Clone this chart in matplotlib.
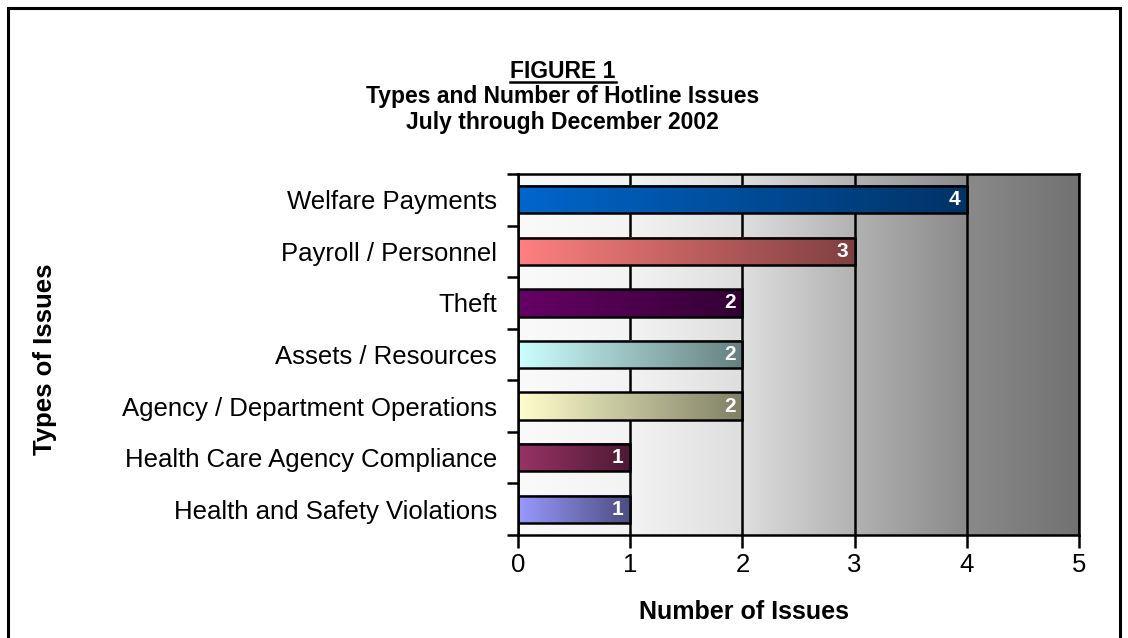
import numpy as np
import matplotlib
matplotlib.use("Agg")
import matplotlib.pyplot as plt
from matplotlib.colors import LinearSegmentedColormap
from matplotlib.patches import Rectangle
from matplotlib.lines import Line2D

plt.rcParams['font.family'] = ['Liberation Sans', 'DejaVu Sans']

# data, top to bottom as in the chart
categories = ["Welfare Payments", "Payroll / Personnel", "Theft", "Assets / Resources",
              "Agency / Department Operations", "Health Care Agency Compliance",
              "Health and Safety Violations"]
counts = [4, 3, 2, 2, 2, 1, 1]
bar_colors = ["#0066CC", "#FF8080", "#660066", "#CCFFFF", "#FFFFCC", "#993366", "#9999FF"]

fig = plt.figure(figsize=(11.28, 6.38), dpi=100)
ax = fig.add_axes([518/1128, 1 - 535/638, (1079-518)/1128, (535-174)/638])

n = len(categories)
ypos = np.arange(n)[::-1]

# grey background gradient, white on the left to dark grey on the right
stops = [(0.0, 250), (0.2, 243), (0.4, 222), (0.6, 178), (0.8, 138), (1.0, 114)]
xs = np.linspace(0, 1, 500)
vals = np.interp(xs, [s[0] for s in stops], [s[1] for s in stops]) / 255.0
bg = np.stack([vals, vals, vals], axis=-1)[None, :, :].repeat(2, axis=0)
ax.imshow(bg, extent=[0, 5, -0.5, n - 0.5], aspect='auto', zorder=0, interpolation='bilinear')

h = 0.53
bars = ax.barh(ypos, counts, height=h, facecolor='none', edgecolor='black', linewidth=1.8, zorder=3)
for bar, col, v in zip(bars, bar_colors, counts):
    c0 = np.array(matplotlib.colors.to_rgb(col))
    cmap = LinearSegmentedColormap.from_list('g', [c0, c0 * 0.5])
    x0, y0 = bar.get_x(), bar.get_y()
    w, hh = bar.get_width(), bar.get_height()
    grad = np.linspace(0, 1, 256)[None, :]
    ax.imshow(grad, cmap=cmap, extent=[x0, x0 + w, y0, y0 + hh], aspect='auto', zorder=2,
              interpolation='bilinear')
    ax.text(x0 + w - 0.06, y0 + hh / 2, str(v), color='white', fontsize=15, fontweight='bold',
            ha='right', va='center', zorder=4)

ax.set_xlim(0, 5)
ax.set_ylim(-0.5, n - 0.5)
ax.set_xticks(range(6))
ax.xaxis.grid(True, color='black', linewidth=1.8)
ax.set_axisbelow(True)
for ln in ax.get_xgridlines():
    ln.set_zorder(1)

ax.set_yticks(ypos)
ax.set_yticklabels(categories)
ax.set_yticks(np.arange(-0.5, n, 1.0), minor=True)
ax.tick_params(axis='y', which='major', length=0, pad=15, labelsize=18.5)
ax.tick_params(axis='y', which='minor', length=8, width=1.8, direction='out')
ax.tick_params(axis='x', length=9, width=1.8, direction='out', pad=4, labelsize=18.5)
for sp in ax.spines.values():
    sp.set_linewidth(1.8)
    sp.set_color('black')

# titles and axis names
fig.text(0.499, 1 - 122/638, "July through December 2002", ha='center', va='center',
         fontsize=16.5, fontweight='bold')
fig.text(0.499, 1 - 97/638, "Types and Number of Hotline Issues", ha='center', va='center',
         fontsize=16.5, fontweight='bold')
t1 = fig.text(0.499, 1 - 72/638, "FIGURE 1", ha='center', va='center',
              fontsize=16.5, fontweight='bold')
fig.text(744/1128, 1 - 612/638, "Number of Issues", ha='center', va='center',
         fontsize=18, fontweight='bold')
fig.text(45/1128, 1 - 359/638, "Types of Issues", ha='center', va='center', rotation=90,
         fontsize=18.5, fontweight='bold')

# underline FIGURE 1
fig.canvas.draw()
bb = t1.get_window_extent().transformed(fig.transFigure.inverted())
fig.add_artist(Line2D([bb.x0, bb.x1], [bb.y0 + 0.002, bb.y0 + 0.002], color='black',
                      linewidth=1.8, transform=fig.transFigure))

# outer border
fig.add_artist(Rectangle((8/1128, -0.05), (1120-8)/1128, 1.05 - 8/638, fill=False,
                         edgecolor='black', linewidth=2.2, transform=fig.transFigure))

fig.savefig("out.png", dpi=100)
